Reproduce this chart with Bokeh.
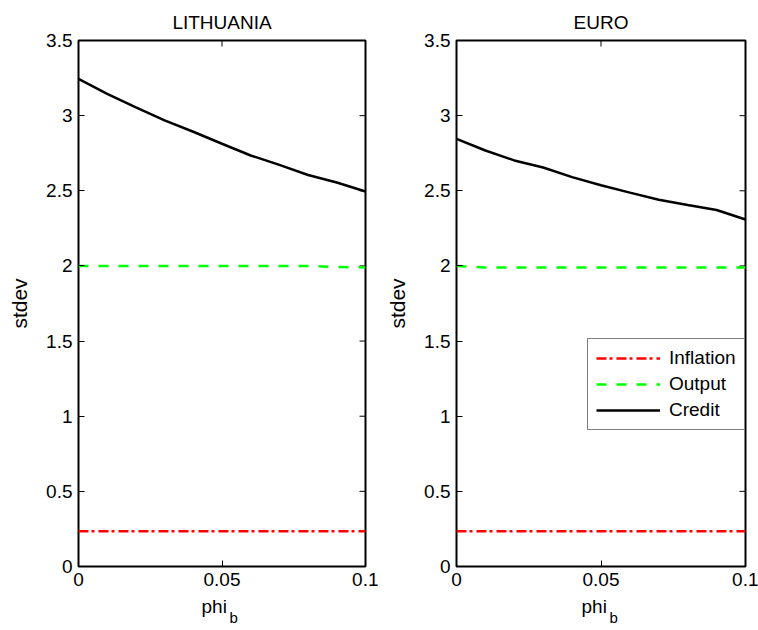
import math
from bokeh.plotting import figure
from bokeh.layouts import row
from bokeh.models import Range1d, FixedTicker, Legend, LegendItem, Title
from bokeh.embed import file_html
from bokeh.resources import INLINE

# ---- data ----
phi_b = [0.00, 0.01, 0.02, 0.03, 0.04, 0.05, 0.06, 0.07, 0.08, 0.09, 0.10]

lt_inflation = [0.235, 0.235, 0.235, 0.235, 0.235, 0.235, 0.235, 0.235, 0.235, 0.235, 0.235]
lt_output = [2.000, 2.000, 2.000, 2.000, 2.000, 2.000, 2.000, 2.000, 2.000, 1.993, 1.990]
lt_credit = [3.245, 3.145, 3.055, 2.968, 2.893, 2.813, 2.735, 2.672, 2.605, 2.555, 2.495]

eu_inflation = [0.235, 0.235, 0.235, 0.235, 0.235, 0.235, 0.235, 0.235, 0.235, 0.235, 0.235]
eu_output = [2.000, 1.990, 1.990, 1.990, 1.990, 1.990, 1.990, 1.990, 1.990, 1.990, 1.990]
eu_credit = [2.846, 2.768, 2.702, 2.655, 2.591, 2.537, 2.488, 2.440, 2.405, 2.372, 2.309]

x_ticks = [0.0, 0.05, 0.1]
x_tick_labels = ["0", "0.05", "0.1"]
y_ticks = [0.0, 0.5, 1.0, 1.5, 2.0, 2.5, 3.0, 3.5]
y_tick_labels = ["0", "0.5", "1", "1.5", "2", "2.5", "3", "3.5"]

series_names = ["Inflation", "Output", "Credit"]
series_colors = ["#ff0000", "#00ff00", "#000000"]
series_dashes = ["10 3 3 4", "10 10", "solid"]

FONT = "Liberation Sans"
FS = "19px"
X_MAX = 0.1
Y_MAX = 3.5


def style_axis(ax, ticks, labels):
    ax.ticker = FixedTicker(ticks=ticks, minor_ticks=[])
    ax.major_label_overrides = {t: l for t, l in zip(ticks, labels)}
    ax.major_tick_in = 6
    ax.major_tick_out = 0
    ax.minor_tick_in = 0
    ax.minor_tick_out = 0
    ax.major_tick_line_color = "black"
    ax.major_tick_line_width = 1
    ax.axis_line_color = None
    ax.major_label_text_font = FONT
    ax.major_label_text_font_size = FS
    ax.major_label_text_color = "black"
    ax.major_label_standoff = 6


def panel(title, series, frame_w, min_right, phi_off, legend_loc=None):
    p = figure(output_backend="svg", toolbar_location=None,
               frame_width=frame_w, frame_height=526,
               min_border_left=78, min_border_right=min_right,
               min_border_top=40, min_border_bottom=64,
               x_range=Range1d(0, X_MAX), y_range=Range1d(0, Y_MAX),
               background_fill_color="white", border_fill_color="white")
    p.title.text = title
    p.title.align = "center"
    p.title.text_font = FONT
    p.title.text_font_size = FS
    p.title.text_font_style = "normal"
    p.title.text_color = "black"
    p.title.standoff = 16
    p.grid.visible = False
    p.outline_line_color = "black"
    p.outline_line_width = 2

    style_axis(p.xaxis[0], x_ticks, x_tick_labels)
    style_axis(p.yaxis[0], y_ticks, y_tick_labels)
    p.yaxis[0].axis_label = "stdev"
    p.yaxis[0].axis_label_text_font = FONT
    p.yaxis[0].axis_label_text_font_size = "21px"
    p.yaxis[0].axis_label_text_font_style = "normal"
    p.yaxis[0].axis_label_text_color = "black"
    p.yaxis[0].axis_label_standoff = 12

    # mirrored inward ticks on top and right edges
    p.ray(x=x_ticks, y=[Y_MAX] * len(x_ticks), length=6, length_units="screen",
          angle=-math.pi / 2, line_color="black", line_width=1)
    p.ray(x=[X_MAX] * len(y_ticks), y=y_ticks, length=6, length_units="screen",
          angle=math.pi, line_color="black", line_width=1)

    renderers = []
    for vals, c, d in zip(series, series_colors, series_dashes):
        r = p.line(phi_b, vals, line_color=c, line_width=2.5, line_dash=d)
        renderers.append(r)

    # x-axis label "phi" with subscript "b"
    t1 = Title(text="phi", align="left", offset=phi_off, standoff=11,
               text_font=FONT, text_font_size=FS, text_font_style="normal",
               text_color="black")
    p.add_layout(t1, "below")
    t2 = Title(text="b", align="left", offset=phi_off + 28, standoff=-27,
               vertical_align="top",
               text_font=FONT, text_font_size="15px", text_font_style="normal",
               text_color="black")
    p.add_layout(t2, "below")

    if legend_loc is not None:
        items = [LegendItem(label=n, renderers=[r]) for n, r in zip(series_names, renderers)]
        lg = Legend(items=items, location=legend_loc)
        lg.label_text_font = FONT
        lg.label_text_font_size = FS
        lg.label_text_color = "black"
        lg.glyph_width = 64
        lg.glyph_height = 20
        lg.label_height = 20
        lg.label_standoff = 9
        lg.spacing = 4
        lg.padding = 8
        lg.margin = 0
        lg.border_line_color = "black"
        lg.border_line_width = 1.5
        lg.background_fill_color = "white"
        lg.background_fill_alpha = 1
        p.add_layout(lg)
    return p


p1 = panel("LITHUANIA", [lt_inflation, lt_output, lt_credit], 287, 13, 123)
p2 = panel("EURO", [eu_inflation, eu_output, eu_credit], 289, 13, 125, legend_loc=(131, 136))

layout = row(p1, p2)
open("out.html", "w").write(file_html(layout, INLINE))
